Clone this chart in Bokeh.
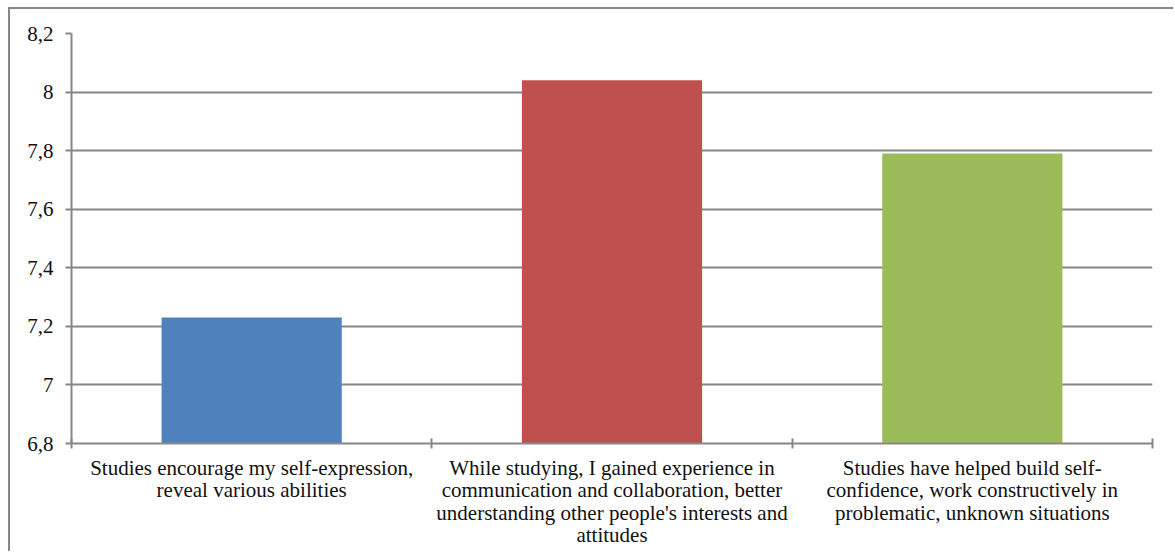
from bokeh.plotting import figure
from bokeh.models import Range1d, FixedTicker, CustomJSTickFormatter, ColumnDataSource
from bokeh.embed import file_html
from bokeh.resources import INLINE

categories = [
    "Studies encourage my self-expression,\nreveal various abilities",
    "While studying, I gained experience in\ncommunication and collaboration, better\nunderstanding other people's interests and\nattitudes",
    "Studies have helped build self-\nconfidence, work constructively in\nproblematic, unknown situations",
]
values = [7.23, 8.04, 7.79]
colors = ["#4F81BD", "#C0504D", "#9BBB59"]
y_ticks = [6.8, 7.0, 7.2, 7.4, 7.6, 7.8, 8.0, 8.2]

FONT = "'Liberation Serif', 'Times New Roman', serif"
GRAY = "#878787"

p = figure(width=1165, height=544, output_backend="svg", toolbar_location=None,
           x_range=Range1d(0, len(categories)), y_range=Range1d(y_ticks[0], y_ticks[-1]),
           min_border_left=61, min_border_right=23, min_border_top=24, min_border_bottom=110,
           margin=(7, 0, 0, 8),
           styles={"border-left": "2px solid #878787", "border-top": "2px solid #878787"})
p.outline_line_color = None
p.background_fill_color = "white"
p.border_fill_color = "white"

xs = [i + 0.5 for i in range(len(categories))]
src = ColumnDataSource(dict(x=xs, top=values, color=colors))
p.vbar(x="x", top="top", bottom=y_ticks[0], width=0.5, fill_color="color", line_color=None, source=src)

# y axis
p.yaxis.ticker = FixedTicker(ticks=y_ticks)
p.yaxis.formatter = CustomJSTickFormatter(code="var s=(Math.round(tick*10)/10).toString(); return s.replace('.', ',');")
p.yaxis.axis_line_color = GRAY
p.yaxis.axis_line_width = 2
p.yaxis.major_tick_line_color = GRAY
p.yaxis.major_tick_line_width = 2
p.yaxis.major_tick_out = 6
p.yaxis.major_tick_in = 0
p.yaxis.minor_tick_line_color = None
p.yaxis.major_label_standoff = 12
p.yaxis.major_label_text_font = FONT
p.yaxis.major_label_text_font_size = "21px"
p.yaxis.major_label_text_color = "#111111"

# x axis: labels at category centres, tick marks between categories
p.xaxis.ticker = FixedTicker(ticks=xs, minor_ticks=list(range(len(categories) + 1)))
p.xaxis.major_label_overrides = {x: c for x, c in zip(xs, categories)}
p.xaxis.major_label_text_font = FONT
p.xaxis.major_label_text_font_size = "21px"
p.xaxis.major_label_text_color = "#111111"
p.xaxis.major_label_text_line_height = 0.94
p.xaxis.major_label_standoff = 7
p.xaxis.axis_line_color = GRAY
p.xaxis.axis_line_width = 2
p.xaxis.major_tick_line_color = None
p.xaxis.major_tick_out = 0
p.xaxis.major_tick_in = 0
p.xaxis.minor_tick_line_color = GRAY
p.xaxis.minor_tick_line_width = 2
p.xaxis.minor_tick_out = 5
p.xaxis.minor_tick_in = 5

p.xgrid.grid_line_color = None
p.ygrid.ticker = FixedTicker(ticks=y_ticks)
p.ygrid.grid_line_color = GRAY
p.ygrid.grid_line_width = 2

open("out.html", "w").write(file_html(p, INLINE))
